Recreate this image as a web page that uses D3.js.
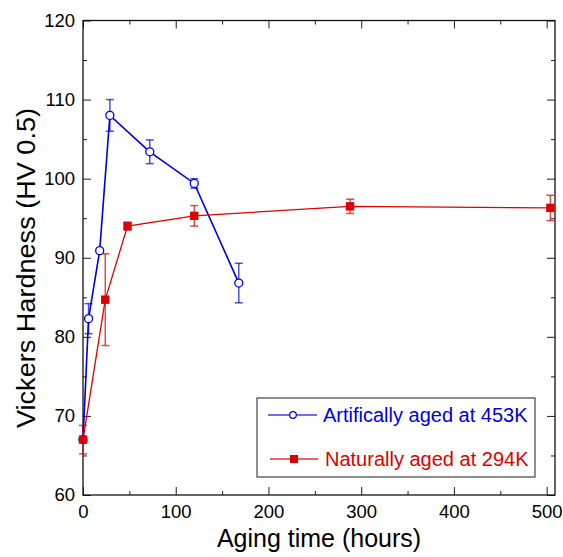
<!DOCTYPE html>
<html><head><meta charset="utf-8">
<script src="https://cdn.jsdelivr.net/npm/d3@7"></script>
<style>body{margin:0;background:#fff}svg{display:block}text{font-family:"Liberation Sans",Arial,Helvetica,sans-serif}</style>
</head><body>
<script>
const blueLabel = "Artifically aged at 453K";
const redLabel = "Naturally aged at 294K";
const blueX = [0, 6, 18, 29, 72, 120, 168];
const blueY = [67, 82.3, 90.9, 108, 103.4, 99.4, 86.8];
const blueErr = [0, 1.9, 0, 2, 1.5, 0.6, 2.5];
const redX = [0, 24, 48, 120, 288, 504];
const redY = [67, 84.7, 94.0, 95.3, 96.5, 96.3];
const redErr = [1.8, 5.8, 0.5, 1.3, 0.9, 1.6];
const xMajor = [0, 100, 200, 300, 400, 500];
const xMinor = [50, 150, 250, 350, 450];
const yMajor = [60, 70, 80, 90, 100, 110, 120];
const yMinor = [65, 75, 85, 95, 105, 115];

const W = 563, H = 557;
const L = 83, R = 555, T = 20.5, B = 495;
const svg = d3.select("body").append("svg").attr("width", W).attr("height", H);
const x = d3.scaleLinear().domain([0, 509]).range([L, R]);
const y = d3.scaleLinear().domain([60, 120]).range([B, T]);

function styleAxis(g){ g.select(".domain").remove(); g.selectAll("line").attr("stroke","#222").attr("stroke-width",1); g.selectAll("text").attr("font-size",18.5).attr("fill","#000").attr("font-family",'"Liberation Sans",Arial,sans-serif'); }

svg.append("g").attr("transform",`translate(0,${B})`).call(d3.axisBottom(x).tickValues(xMajor).tickSize(-8).tickPadding(10).tickFormat(d3.format("d"))).call(styleAxis);
svg.append("g").attr("transform",`translate(0,${B})`).call(d3.axisBottom(x).tickValues(xMinor).tickSize(-4).tickFormat("")).call(styleAxis);
svg.append("g").attr("transform",`translate(0,${T})`).call(d3.axisTop(x).tickValues(xMajor).tickSize(-8).tickFormat("")).call(styleAxis);
svg.append("g").attr("transform",`translate(0,${T})`).call(d3.axisTop(x).tickValues(xMinor).tickSize(-4).tickFormat("")).call(styleAxis);
svg.append("g").attr("transform",`translate(${L},0)`).call(d3.axisLeft(y).tickValues(yMajor).tickSize(-8).tickPadding(8).tickFormat(d3.format("d"))).call(styleAxis);
svg.append("g").attr("transform",`translate(${L},0)`).call(d3.axisLeft(y).tickValues(yMinor).tickSize(-4).tickFormat("")).call(styleAxis);
svg.append("g").attr("transform",`translate(${R},0)`).call(d3.axisRight(y).tickValues(yMajor).tickSize(-8).tickFormat("")).call(styleAxis);
svg.append("g").attr("transform",`translate(${R},0)`).call(d3.axisRight(y).tickValues(yMinor).tickSize(-4).tickFormat("")).call(styleAxis);

svg.append("rect").attr("x",L).attr("y",T).attr("width",R-L).attr("height",B-T).attr("fill","none").attr("stroke","#111").attr("stroke-width",1.3);

const blue = "#0000dd", red = "#dd0000";
const blueData = blueX.map((d,i)=>({x:d,y:blueY[i],e:blueErr[i]}));
const redData = redX.map((d,i)=>({x:d,y:redY[i],e:redErr[i]}));
const line = d3.line().x(d=>x(d.x)).y(d=>y(d.y));

function errorBars(data, color){
  const g = svg.append("g").attr("stroke",color).attr("stroke-opacity",0.7).attr("stroke-width",1.5);
  data.filter(d=>d.e>0).forEach(d=>{
    const cx = x(d.x);
    g.append("line").attr("x1",cx).attr("x2",cx).attr("y1",y(d.y+d.e)).attr("y2",y(d.y-d.e));
    g.append("line").attr("x1",cx-4).attr("x2",cx+4).attr("y1",y(d.y+d.e)).attr("y2",y(d.y+d.e));
    g.append("line").attr("x1",cx-4).attr("x2",cx+4).attr("y1",y(d.y-d.e)).attr("y2",y(d.y-d.e));
  });
}
errorBars(redData, red);
errorBars(blueData, blue);
svg.append("path").datum(blueData).attr("d",line).attr("fill","none").attr("stroke",blue).attr("stroke-width",1.6);
svg.append("path").datum(redData).attr("d",line).attr("fill","none").attr("stroke",red).attr("stroke-width",1.3);
svg.append("g").selectAll("circle").data(blueData).join("circle").attr("cx",d=>x(d.x)).attr("cy",d=>y(d.y)).attr("r",4).attr("fill","#fff").attr("stroke",blue).attr("stroke-width",1.3);
svg.append("g").selectAll("rect").data(redData).join("rect").attr("x",d=>x(d.x)-4.2).attr("y",d=>y(d.y)-4.2).attr("width",8.4).attr("height",8.4).attr("fill",red);

// legend
const lg = svg.append("g");
lg.append("rect").attr("x",257).attr("y",398).attr("width",278).attr("height",79).attr("fill","#fff").attr("stroke","#444").attr("stroke-width",1.2);
lg.append("line").attr("x1",268).attr("x2",317).attr("y1",415).attr("y2",415).attr("stroke",blue).attr("stroke-opacity",0.75).attr("stroke-width",1.3);
lg.append("circle").attr("cx",293).attr("cy",415).attr("r",3.3).attr("fill","#fff").attr("stroke",blue).attr("stroke-width",1.2);
lg.append("text").attr("x",323).attr("y",422).attr("font-size",20).attr("fill",blue).text(blueLabel);
lg.append("line").attr("x1",270).attr("x2",318).attr("y1",459).attr("y2",459).attr("stroke",red).attr("stroke-opacity",0.8).attr("stroke-width",1.3);
lg.append("rect").attr("x",290).attr("y",455).attr("width",8).attr("height",8).attr("fill",red);
lg.append("text").attr("x",325).attr("y",466).attr("font-size",20).attr("fill",red).text(redLabel);

svg.append("text").attr("x",(L+R)/2).attr("y",547).attr("text-anchor","middle").attr("font-size",25).text("Aging time (hours)");
svg.append("text").attr("transform",`translate(35,268) rotate(-90)`).attr("text-anchor","middle").attr("font-size",26).attr("textLength",320).attr("lengthAdjust","spacingAndGlyphs").text("Vickers Hardness (HV 0.5)");
</script>
</body></html>
